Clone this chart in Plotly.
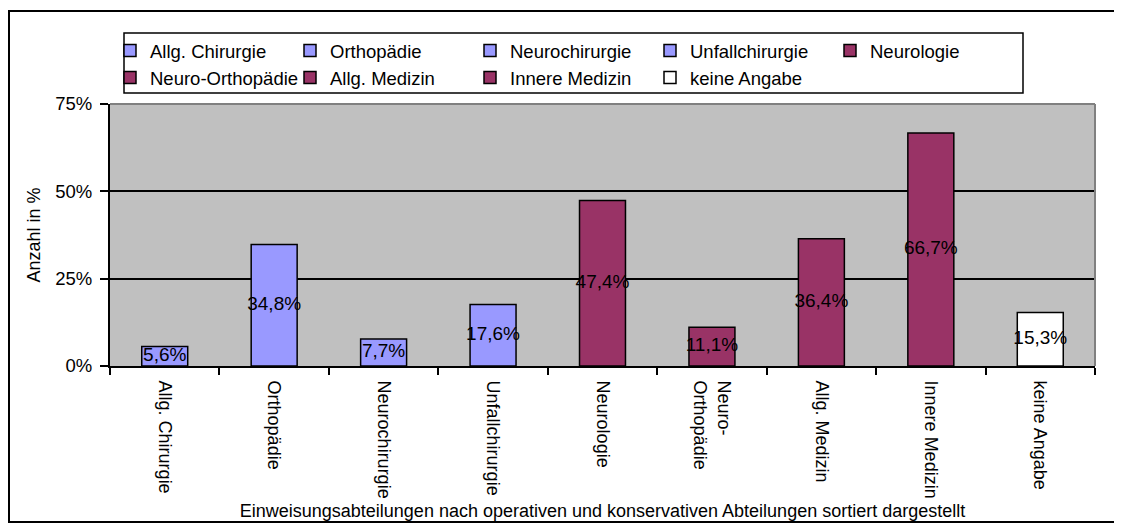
import plotly.graph_objects as go

categories = ["Allg. Chirurgie", "Orthopädie", "Neurochirurgie", "Unfallchirurgie", "Neurologie",
              "Neuro-Orthopädie", "Allg. Medizin", "Innere Medizin", "keine Angabe"]
tick_labels = ["Allg. Chirurgie", "Orthopädie", "Neurochirurgie", "Unfallchirurgie", "Neurologie",
               "Neuro-<br>Orthopädie", "Allg. Medizin", "Innere Medizin", "keine Angabe"]
values = [5.6, 34.8, 7.7, 17.6, 47.4, 11.1, 36.4, 66.7, 15.3]
value_labels = ["5,6%", "34,8%", "7,7%", "17,6%", "47,4%", "11,1%", "36,4%", "66,7%", "15,3%"]
colors = ["#9999FF", "#9999FF", "#9999FF", "#9999FF", "#993366",
          "#993366", "#993366", "#993366", "#FFFFFF"]

FONT = "Liberation Sans, Arial, sans-serif"
OX, OY = 8, 8  # default page body margin
W, H = 1122, 525
# target plot area in window pixels: x 110..1095, y 104..366
L = 110 - OX
T = 104 - OY
R = (OX + W) - 1095
B = (OY + H) - 366
pw, ph = W - L - R, H - T - B

def px_x(px):
    return (px - OX - L) / pw

def px_y(py):
    return (OY + T + ph - py) / ph

fig = go.Figure()
for cat, val, col in zip(categories, values, colors):
    fig.add_trace(go.Bar(
        x=[cat], y=[val], name=cat, width=0.42,
        marker=dict(color=col, line=dict(color="black", width=1.5)),
        hoverinfo="skip",
    ))

fig.add_trace(go.Scatter(
    x=categories, y=[v / 2 for v in values], text=value_labels, mode="text",
    textfont=dict(family=FONT, size=19, color="black"), showlegend=False, hoverinfo="skip",
))

shapes = [
    # outer chart frame
    dict(type="rect", xref="paper", yref="paper", x0=px_x(9), x1=px_x(1140), y0=px_y(522), y1=px_y(11),
         line=dict(color="black", width=2), fillcolor="rgba(0,0,0,0)", layer="above"),
    # legend box
    dict(type="rect", xref="paper", yref="paper", x0=px_x(124), x1=px_x(1023), y0=px_y(93), y1=px_y(33),
         line=dict(color="black", width=1.5), fillcolor="white", layer="below"),
    # plot area border top/right
    dict(type="line", xref="paper", yref="paper", x0=0, x1=1, y0=1, y1=1,
         line=dict(color="#808080", width=2), layer="above"),
    dict(type="line", xref="paper", yref="paper", x0=1, x1=1, y0=0, y1=1,
         line=dict(color="#808080", width=2), layer="above"),
]

fig.update_layout(
    width=W, height=H,
    margin=dict(l=L, r=R, t=T, b=B, autoexpand=False),
    paper_bgcolor="white", plot_bgcolor="#C0C0C0",
    barmode="overlay",
    font=dict(family=FONT, size=18, color="black"),
    showlegend=True,
    legend=dict(
        orientation="h", x=0, y=px_y(32), xanchor="left", yanchor="top",
        entrywidth=135, entrywidthmode="pixels", itemwidth=30,
        borderwidth=0, bgcolor="rgba(0,0,0,0)",
        font=dict(family=FONT, size=18.5, color="black"), traceorder="normal",
    ),
    xaxis=dict(
        categoryorder="array", categoryarray=categories,
        tickmode="array", tickvals=categories, ticktext=tick_labels,
        tickangle=90, tickson="boundaries", ticks="outside", ticklen=7, tickcolor="black", tickwidth=1.5,
        showline=True, linecolor="black", linewidth=2, showgrid=False, ticklabelstandoff=9,
        tickfont=dict(family=FONT, size=18),
        title=dict(text="Einweisungsabteilungen nach operativen und konservativen Abteilungen sortiert dargestellt",
                   font=dict(family=FONT, size=18), standoff=7),
        range=[-0.5, 8.5],
    ),
    yaxis=dict(
        range=[0, 75], tickvals=[0, 25, 50, 75], ticktext=["0%", "25%", "50%", "75%"],
        ticks="outside", ticklen=8, tickcolor="black", tickwidth=1.5,
        showline=True, linecolor="black", linewidth=2, ticklabelstandoff=4,
        showgrid=True, gridcolor="black", gridwidth=1.5, zeroline=False,
        tickfont=dict(family=FONT, size=18.5),
        title=dict(text="Anzahl in %", font=dict(family=FONT, size=18), standoff=10),
    ),
    shapes=shapes,
)

fig.write_html("out.html")
